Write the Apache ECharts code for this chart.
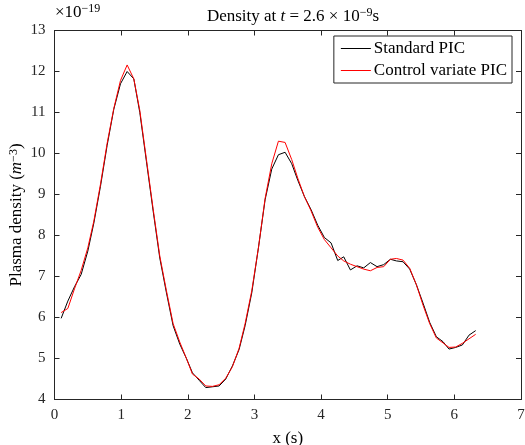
<!DOCTYPE html>
<html>
<head>
<meta charset="utf-8">
<script src="https://cdn.jsdelivr.net/npm/echarts@6/dist/echarts.min.js"></script>
<style>html,body{margin:0;padding:0;background:#fff}#c{width:525px;height:445px}</style>
</head>
<body>
<div id="c"></div>
<script>
const xs = [0.10,0.20,0.30,0.40,0.50,0.59,0.69,0.79,0.89,0.99,1.09,1.19,1.28,1.38,1.48,1.58,1.68,1.78,1.88,1.98,2.07,2.17,2.27,2.37,2.47,2.57,2.67,2.77,2.86,2.96,3.06,3.16,3.26,3.36,3.46,3.56,3.65,3.75,3.85,3.95,4.05,4.15,4.25,4.34,4.44,4.54,4.64,4.74,4.84,4.94,5.04,5.13,5.23,5.33,5.43,5.53,5.63,5.73,5.83,5.92,6.02,6.12,6.22,6.32];
const standardPIC = [5.98,6.40,6.75,7.05,7.62,8.30,9.20,10.20,11.08,11.70,12.00,11.82,11.00,9.80,8.60,7.45,6.60,5.80,5.35,5.00,4.65,4.47,4.29,4.31,4.33,4.50,4.82,5.22,5.80,6.60,7.70,8.87,9.62,9.97,10.03,9.75,9.35,8.95,8.63,8.25,7.95,7.82,7.39,7.48,7.16,7.26,7.21,7.34,7.24,7.29,7.42,7.38,7.36,7.18,6.80,6.35,5.88,5.53,5.41,5.23,5.27,5.33,5.57,5.68];
const controlVariatePIC = [6.12,6.22,6.70,7.15,7.70,8.35,9.25,10.25,11.10,11.78,12.16,11.82,11.05,9.85,8.65,7.50,6.65,5.85,5.40,5.00,4.62,4.50,4.33,4.32,4.36,4.52,4.80,5.25,5.85,6.65,7.70,8.90,9.75,10.30,10.27,9.85,9.40,8.95,8.60,8.20,7.90,7.70,7.50,7.38,7.30,7.24,7.18,7.14,7.22,7.24,7.42,7.44,7.40,7.20,6.80,6.30,5.85,5.50,5.38,5.27,5.28,5.37,5.48,5.59];
const xTickValues = [0,1,2,3,4,5,6,7];
const yTickValues = [4,5,6,7,8,9,10,11,12,13];
const seriesNames = ['Standard PIC','Control variate PIC'];
const yExponent = '−19';

const FONT = 'Liberation Serif';
const AX = '#262626';
const chart = echarts.init(document.getElementById('c'), null, {renderer:'canvas'});

const baseAxis = {
  axisLine:{show:true,onZero:false,lineStyle:{color:AX,width:1}},
  axisTick:{show:true,inside:true,length:5,lineStyle:{color:AX,width:1}},
  splitLine:{show:false}
};
const rich = {
  n:{fontFamily:FONT,fontSize:17,fontWeight:'normal',color:'#000'},
  i:{fontFamily:FONT,fontSize:17,fontWeight:'normal',fontStyle:'italic',color:'#000'},
  s:{fontFamily:FONT,fontSize:12,fontWeight:'normal',color:'#000',verticalAlign:'top',padding:[0,0,7,0]}
};

chart.setOption({
  animation:false,
  backgroundColor:'#fff',
  grid:{left:54.5,right:4,top:30.5,bottom:45.5,containLabel:false,outerBoundsMode:'none'},
  title:{
    text:'{n|Density at }{i|t}{n| = 2.6 × 10}{s|−9}{n|s}',
    left:288, top:2, textAlign:'center',
    textStyle:{fontWeight:'normal',rich:rich}
  },
  graphic:[{
    type:'text', left:55, top:3,
    style:{text:'{n|×10}{s|'+yExponent+'}', rich:rich}
  }],
  legend:{
    orient:'vertical', right:13, top:36,
    data:seriesNames,
    icon:'path://M0,0 L30,0 L30,1 L0,1 Z',
    backgroundColor:'#fff', borderColor:AX, borderWidth:1,
    padding:[4,5,4,7], itemGap:5, itemWidth:30, itemHeight:1,
    textStyle:{fontFamily:FONT,fontSize:17,color:'#000',padding:[0,0,0,-2]}
  },
  xAxis:[
    Object.assign({}, baseAxis, {
      type:'value', min:0, max:7, interval:1, position:'bottom',
      name:'x (s)', nameLocation:'middle', nameGap:31, nameMoveOverlap:false,
      nameTextStyle:{fontFamily:FONT,fontSize:17,color:'#000'},
      axisLabel:{fontFamily:FONT,fontSize:15,color:'#262626',margin:8,
        formatter:v=>xTickValues.includes(v)?String(v):''}
    }),
    Object.assign({}, baseAxis, {
      type:'value', min:0, max:7, interval:1, position:'top', axisLabel:{show:false}
    })
  ],
  yAxis:[
    Object.assign({}, baseAxis, {
      type:'value', min:4, max:13, interval:1, position:'left',
      name:'{n|Plasma density (}{i|m}{s|−3}{n|)}', nameLocation:'middle', nameGap:28, nameRotate:90,
      nameMoveOverlap:false,
      nameTextStyle:{rich:rich},
      axisLabel:{fontFamily:FONT,fontSize:15,color:'#262626',margin:9,
        formatter:v=>yTickValues.includes(v)?String(v):''}
    }),
    Object.assign({}, baseAxis, {
      type:'value', min:4, max:13, interval:1, position:'right', axisLabel:{show:false}
    })
  ],
  series:[
    {name:seriesNames[0], type:'line', symbol:'none', showSymbol:false,
     lineStyle:{color:'#000',width:1}, itemStyle:{color:'#000'},
     data:xs.map((x,i)=>[x,standardPIC[i]])},
    {name:seriesNames[1], type:'line', symbol:'none', showSymbol:false,
     lineStyle:{color:'#ff0000',width:1}, itemStyle:{color:'#ff0000'},
     data:xs.map((x,i)=>[x,controlVariatePIC[i]])}
  ]
});
</script>
</body>
</html>
